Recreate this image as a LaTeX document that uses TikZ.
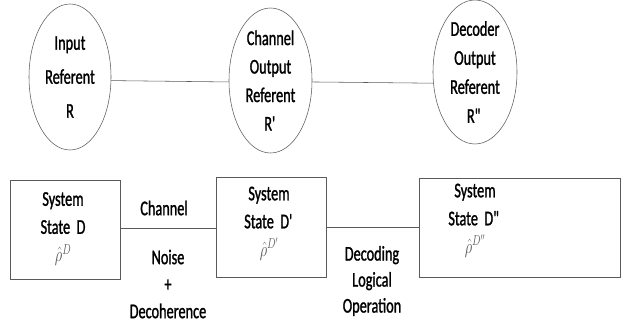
\documentclass[tikz,border=0pt]{standalone}
\usepackage{fontspec}
\usepackage{graphicx}
\setmainfont{Carlito}[FakeStretch=0.68,FakeBold=1.2]
\usetikzlibrary{shapes.geometric}
\definecolor{linegray}{RGB}{90,90,90}
\definecolor{rhogray}{RGB}{85,85,85}
\tikzset{
  ell/.style={draw=linegray, line width=0.55pt, ellipse, inner sep=0pt, align=center},
  box/.style={draw=linegray, line width=0.55pt, rectangle, inner sep=0pt},
  txt/.style={inner sep=0pt, align=center},
  conn/.style={draw=linegray, line width=0.55pt},
}
\newcommand{\rhot}[1]{{\color{rhogray}\fontsize{20}{20}\selectfont\scalebox{0.7}[1]{$\hat{\rho}^{#1}$}}}
\newcommand{\sq}{\textquotesingle}
\newcommand{\dq}{\textquotedbl}
\begin{document}
\begin{tikzpicture}[x=1pt,y=-1pt]
\useasboundingbox (0,0) rectangle (621,329);
% ellipses
\node[ell, minimum width=82pt, minimum height=146pt, font=\fontsize{21}{34}\selectfont] (e1) at (70,77) {Input\\Referent\\R};
\node[ell, minimum width=83pt, minimum height=145pt, font=\fontsize{21}{28.5}\selectfont] (e2) at (270.5,80.5) {Channel\\Output\\Referent\\R\sq};
\node[ell, minimum width=84pt, minimum height=144pt, font=\fontsize{21}{29}\selectfont] (e3) at (475,72) {Decoder\\Output\\Referent\\R\dq};
\draw[conn] (e1.-5) -- (e2.182);
\draw[conn] (e2.-2) -- (e3.195);
% boxes
\node[box, minimum width=110pt, minimum height=99pt] (b1) at (65,229.5) {};
\node[box, minimum width=110pt, minimum height=100pt] (b2) at (271,227) {};
\node[box, minimum width=201.5pt, minimum height=99pt] (b3) at (519.75,227.5) {};
\draw[conn] ([yshift=1.5pt]b1.east) -- ([yshift=-1pt]b2.west);
\draw[conn] ([yshift=-0pt]b2.east) -- ([yshift=0.5pt]b3.west);
% box texts
\node[txt, font=\fontsize{21}{28}\selectfont] (t1) at (63,229) {System\\State~~D\\\rhot{D}};
\node[txt, font=\fontsize{21}{28}\selectfont] (t2) at (269,223.5) {System\\State~~D\sq\\\rhot{D'}};
\node[txt, font=\fontsize{21}{28}\selectfont] (t3) at (475,220.5) {System\\State~~D\dq\\\rhot{D''}};
% connector labels
\node[txt, font=\fontsize{21}{26}\selectfont] (ch) at (164,208) {Channel};
\node[txt, font=\fontsize{21}{27}\selectfont] (nd) at (168,284) {Noise\\+\\Decoherence};
\node[txt, font=\fontsize{21}{26}\selectfont] (dl) at (372,281) {Decoding\\Logical\\Operation};
\end{tikzpicture}
\end{document}
